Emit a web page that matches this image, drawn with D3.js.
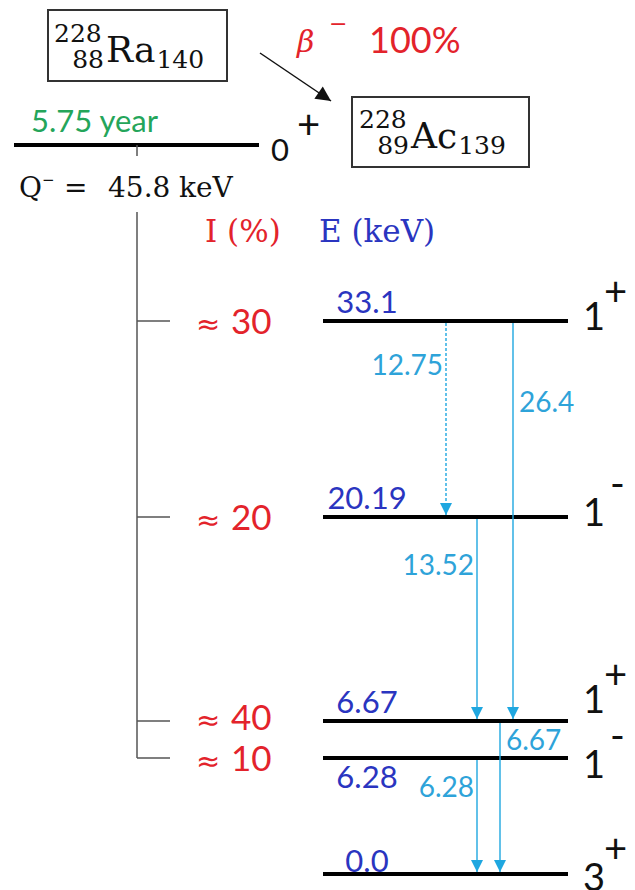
<!DOCTYPE html>
<html>
<head>
<meta charset="utf-8">
<script src="https://cdn.jsdelivr.net/npm/d3@7"></script>
<style>
  body { margin: 0; background: #fff; }
  svg { display: block; }
  .serif { font-family: "DejaVu Serif", serif; }
  .sans { font-family: Lato, "Liberation Sans", sans-serif; }
</style>
</head>
<body>
<svg id="scheme" width="635" height="890"></svg>
<script>
const nuclideSymbol = ["Ra", "Ac"];
const nuclideA = [228, 228];
const nuclideZ = [88, 89];
const nuclideN = [140, 139];

const parentEnergy = 45.8;          // Q- value (keV)
const parentHalfLife = "5.75 year";
const parentSpin = "0";
const parentParity = "+";
const betaBranch = "100%";

// daughter levels (keV)
const levelEnergy = [33.1, 20.19, 6.67, 6.28, 0.0];
const levelText = ["33.1", "20.19", "6.67", "6.28", "0.0"];
const levelSpin = ["1", "1", "1", "1", "3"];
const levelParity = ["+", "-", "+", "-", "+"];
const betaFeed = ["≈ 30", "≈ 20", "≈ 40", "≈ 10", null];

// gamma transitions
const gammaFrom = [33.1, 33.1, 20.19, 6.67, 6.28];
const gammaTo = [20.19, 6.67, 6.67, 0.0, 0.0];
const gammaText = ["12.75", "26.4", "13.52", "6.67", "6.28"];
const gammaTentative = [true, false, false, false, false];

// ---- Colours ----
const RED = "#e3232b", BLUE = "#2a35c0", GREEN = "#24a55a",
      CYAN = "#1fa7e0", CYAN_TXT = "#2ea3d9", GREY = "#555";

const svg = d3.select("#scheme");

// energy -> y (the scheme is not to scale, so a piecewise scale)
const y = d3.scaleLinear()
    .domain([parentEnergy].concat(levelEnergy))
    .range([145, 321, 517, 721, 758, 874]);

// gamma columns
const gx = d3.scaleOrdinal().domain(gammaText).range([446, 513, 477, 500, 477]);
// gamma label placement (side, baseline)
const gSide = d3.scaleOrdinal().domain(gammaText).range(["end", "start", "end", "start", "end"]);
const gLabelY = d3.scaleOrdinal().domain(gammaText).range([375, 412, 575, 750, 797]);

const levelX = [323, 568];

// arrowheads
const defs = svg.append("defs");
function head(id, color, w, h) {
    defs.append("marker")
        .attr("id", id)
        .attr("viewBox", "0 0 10 10")
        .attr("refX", 10).attr("refY", 5)
        .attr("markerWidth", w).attr("markerHeight", h)
        .attr("markerUnits", "userSpaceOnUse")
        .attr("orient", "auto")
        .append("path").attr("d", "M0,0 L10,5 L0,10 z").attr("fill", color);
}
head("head-cyan", CYAN, 12, 12);
head("head-black", "#111", 16, 15);

// ---- Nuclide boxes ----
function nuclide(i, box, px, base) {
    svg.append("rect")
        .attr("x", box[0]).attr("y", box[1])
        .attr("width", box[2]).attr("height", box[3])
        .attr("fill", "none").attr("stroke", "#333").attr("stroke-width", 2);
    const g = svg.append("g").attr("class", "serif").attr("fill", "#111");
    g.append("text").attr("x", px).attr("y", base - 20)
        .attr("font-size", 25).text(nuclideA[i]);
    g.append("text").attr("x", px + 50).attr("y", base + 6)
        .attr("text-anchor", "end").attr("font-size", 25).text(nuclideZ[i]);
    const sym = g.append("text").attr("x", px + 52).attr("y", base)
        .attr("font-size", 36).text(nuclideSymbol[i]);
    const w = sym.node().getComputedTextLength();
    g.append("text").attr("x", px + 53 + w).attr("y", base + 6)
        .attr("font-size", 25).text(nuclideN[i]);
}
nuclide(0, [48, 10, 179, 71], 54, 62);
nuclide(1, [352, 97, 177, 70], 359, 148);

// beta arrow
svg.append("line")
    .attr("x1", 260).attr("y1", 53).attr("x2", 331).attr("y2", 101)
    .attr("stroke", "#111").attr("stroke-width", 1.5)
    .attr("marker-end", "url(#head-black)");
svg.append("text").attr("class", "serif").attr("x", 297).attr("y", 52)
    .attr("font-size", 30).attr("font-style", "italic").attr("fill", RED).text("β");
svg.append("text").attr("class", "serif").attr("x", 329).attr("y", 31)
    .attr("font-size", 22).attr("fill", RED).text("−");
svg.append("text").attr("class", "sans").attr("x", 369).attr("y", 53)
    .attr("font-size", 36).attr("fill", RED).text(betaBranch);

// ---- Parent level ----
svg.append("line")
    .attr("x1", 14).attr("x2", 259)
    .attr("y1", y(parentEnergy)).attr("y2", y(parentEnergy))
    .attr("stroke", "#000").attr("stroke-width", 4);
svg.append("text").attr("class", "sans").attr("x", 31).attr("y", 132)
    .attr("font-size", 31).attr("fill", GREEN).text(parentHalfLife);
svg.append("text").attr("class", "sans").attr("x", 271).attr("y", y(parentEnergy) + 16)
    .attr("font-size", 31).attr("fill", "#111").text(parentSpin);
svg.append("text").attr("class", "sans").attr("x", 297).attr("y", y(parentEnergy) - 6)
    .attr("font-size", 40).attr("fill", "#111").text(parentParity);

// Q value
const qy = 197;
svg.append("text").attr("class", "serif").attr("x", 19).attr("y", qy)
    .attr("font-size", 28).attr("fill", "#111").text("Q");
svg.append("text").attr("class", "serif").attr("x", 42).attr("y", qy - 12)
    .attr("font-size", 15).attr("fill", "#111").text("−");
const q = svg.append("text").attr("class", "serif").attr("y", qy)
    .attr("font-size", 28).attr("fill", "#111");
q.append("tspan").attr("x", 64).text("=");
q.append("tspan").attr("x", 108).text(parentEnergy);
q.append("tspan").attr("x", 179).text("keV");

// beta feeding tree
const trunkX = 137;
const fed = levelEnergy.filter((e, i) => betaFeed[i]);
svg.append("line")
    .attr("x1", trunkX).attr("x2", trunkX)
    .attr("y1", y(parentEnergy)).attr("y2", y(parentEnergy) + 11)
    .attr("stroke", GREY).attr("stroke-width", 1.5);
svg.append("line")
    .attr("x1", trunkX).attr("x2", trunkX)
    .attr("y1", 212).attr("y2", y(d3.min(fed)))
    .attr("stroke", GREY).attr("stroke-width", 1.5);
svg.append("g").selectAll("line").data(fed).join("line")
    .attr("x1", trunkX).attr("x2", trunkX + 33)
    .attr("y1", d => y(d)).attr("y2", d => y(d))
    .attr("stroke", GREY).attr("stroke-width", 1.5);

// column headers
svg.append("text").attr("class", "serif").attr("x", 205).attr("y", 242)
    .attr("font-size", 31).attr("fill", RED).text("I (%)");
svg.append("text").attr("class", "serif").attr("x", 319).attr("y", 242)
    .attr("font-size", 31).attr("fill", BLUE).text("E (keV)");

// ---- Daughter levels ----
const lv = levelEnergy.map((e, i) => ({
    e, i, text: levelText[i], spin: levelSpin[i], parity: levelParity[i], feed: betaFeed[i]
}));
// crowding: is the neighbouring level close?
const near = (a, b) => b !== undefined && Math.abs(y(a) - y(b)) < 50;
lv.forEach(d => {
    d.crowdAbove = near(d.e, levelEnergy[d.i - 1]);
    d.crowdBelow = near(d.e, levelEnergy[d.i + 1]);
});

svg.append("g").selectAll("line").data(lv).join("line")
    .attr("x1", levelX[0]).attr("x2", levelX[1])
    .attr("y1", d => y(d.e)).attr("y2", d => y(d.e))
    .attr("stroke", "#000").attr("stroke-width", 4);

// beta intensities ("≈" drawn in a font with a larger glyph)
const feedText = svg.append("g").attr("fill", RED).selectAll("text")
    .data(lv.filter(d => d.feed)).join("text")
    .attr("y", d => y(d.e) + (d.crowdBelow ? 9 : 13));
feedText.append("tspan")
    .attr("x", 196).attr("font-family", "DejaVu Sans").attr("font-size", 29)
    .text(d => d.feed.split(" ")[0]);
feedText.append("tspan")
    .attr("x", 231).attr("class", "sans").attr("font-size", 35)
    .text(d => d.feed.split(" ")[1]);

// energies
svg.append("g").attr("class", "sans").selectAll("text").data(lv).join("text")
    .attr("x", 367)
    .attr("y", d => y(d.e) + (d.crowdAbove ? 30 : d.e === 0 ? -2 : -8))
    .attr("text-anchor", "middle")
    .attr("font-size", 31).attr("fill", BLUE).text(d => d.text);

// spin / parity
const spinBase = d => y(d.e) + (d.crowdBelow ? -8 : d.crowdAbove ? 20 : d.e === 0 ? 17 : 9);
const sp = svg.append("g").attr("class", "sans").attr("fill", "#111");
sp.selectAll("text.spin").data(lv).join("text").attr("class", "spin")
    .attr("x", 583).attr("y", spinBase)
    .attr("font-size", 38).text(d => d.spin);
sp.selectAll("text.parity").data(lv).join("text").attr("class", "parity")
    .attr("x", d => d.parity === "+" ? 604 : 610)
    .attr("y", d => spinBase(d) - (d.parity === "+" ? (d.e === 0 ? 28 : 24) : 28))
    .attr("font-size", 40).text(d => d.parity);

// ---- Gamma transitions ----
const gm = gammaText.map((t, i) => ({
    t, from: gammaFrom[i], to: gammaTo[i], dashed: gammaTentative[i]
}));
svg.append("g").selectAll("line").data(gm).join("line")
    .attr("x1", d => gx(d.t)).attr("x2", d => gx(d.t))
    .attr("y1", d => y(d.from) + 2).attr("y2", d => y(d.to) - 2)
    .attr("stroke", CYAN).attr("stroke-width", 1.4)
    .attr("stroke-dasharray", d => d.dashed ? "3,2" : null)
    .attr("marker-end", "url(#head-cyan)");
svg.append("g").attr("class", "sans").selectAll("text").data(gm).join("text")
    .attr("x", d => gx(d.t) + (gSide(d.t) === "end" ? -3 : 6))
    .attr("y", d => gLabelY(d.t))
    .attr("text-anchor", d => gSide(d.t))
    .attr("font-size", 28).attr("fill", CYAN_TXT).text(d => d.t);
</script>
</body>
</html>
